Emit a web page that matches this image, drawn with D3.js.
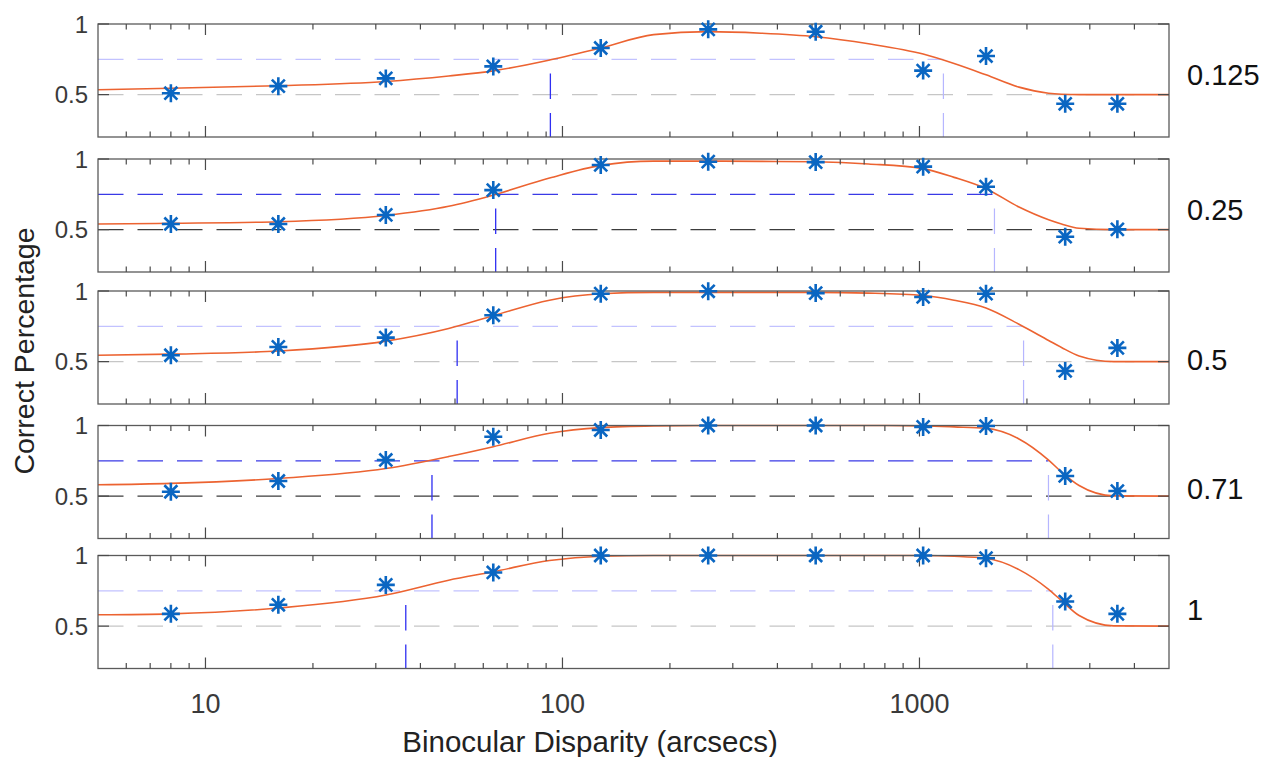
<!DOCTYPE html>
<html>
<head>
<meta charset="utf-8">
<script src="https://cdn.jsdelivr.net/npm/d3@7"></script>
<style>
  body { margin: 0; background: #fff; }
  svg { display: block; font-family: "Liberation Sans", Arial, Helvetica, sans-serif; }
</style>
</head>
<body>
<svg id="chart" width="1269" height="757"></svg>
<script>
// disparities that were tested (arcsecs)
var disparity = [8, 16, 32, 64, 128, 256, 512, 1024, 1536, 2560, 3584]
var conditions = ["0.125", "0.25", "0.5", "0.71", "1"]

// proportion correct, one list per condition
var pc0125 = [0.51, 0.56, 0.615, 0.70, 0.83, 0.962, 0.945, 0.67, 0.773, 0.435, 0.435]
var pc025 = [0.54, 0.54, 0.604, 0.78, 0.958, 0.981, 0.978, 0.946, 0.804, 0.45, 0.502]
var pc05 = [0.545, 0.604, 0.67, 0.828, 0.981, 0.998, 0.985, 0.958, 0.981, 0.434, 0.597]
var pc071 = [0.531, 0.607, 0.756, 0.92, 0.968, 1.0, 1.0, 0.99, 0.996, 0.643, 0.536]
var pc1 = [0.587, 0.651, 0.792, 0.88, 1.0, 1.0, 1.0, 1.0, 0.981, 0.674, 0.587]

// fitted curves at these disparities
var fitX = [5, 8, 16, 32, 48, 64, 92, 128, 180, 256, 360, 512, 720, 1024, 1250, 1536, 1900, 2300, 2500, 2800, 3500, 5000]
var fit0125 = [0.535, 0.545, 0.563, 0.593, 0.632, 0.668, 0.745, 0.83, 0.925, 0.946, 0.935, 0.91, 0.86, 0.787, 0.72, 0.64, 0.553, 0.51, 0.503, 0.5, 0.5, 0.5]
var fit025 = [0.54, 0.545, 0.556, 0.60, 0.665, 0.745, 0.865, 0.955, 0.985, 0.985, 0.983, 0.98, 0.965, 0.932, 0.87, 0.79, 0.66, 0.57, 0.54, 0.51, 0.5, 0.5]
var fit05 = [0.545, 0.553, 0.575, 0.645, 0.735, 0.825, 0.935, 0.98, 0.99, 0.99, 0.99, 0.99, 0.985, 0.968, 0.935, 0.88, 0.765, 0.65, 0.60, 0.54, 0.5, 0.5]
var fit071 = [0.58, 0.59, 0.625, 0.695, 0.78, 0.85, 0.945, 0.985, 0.997, 1.0, 1.0, 1.0, 1.0, 0.997, 0.99, 0.98, 0.905, 0.755, 0.67, 0.575, 0.502, 0.5]
var fit1 = [0.58, 0.587, 0.628, 0.72, 0.825, 0.885, 0.965, 0.995, 1.0, 1.0, 1.0, 1.0, 1.0, 1.0, 0.995, 0.98, 0.9, 0.76, 0.68, 0.575, 0.502, 0.5]

// thresholds where the fit crosses 75%
var lowThresh = [92.5, 65, 50.7, 43.1, 36.4]
var highThresh = [1167, 1622, 1957, 2298, 2363]

var chance = 0.5
var criterion = 0.75
var markTop = 0.65   // top of the threshold markers
var refEnd = 4000    // chance line stops here
var xTicks = [10, 100, 1000]
var yTicks = [0.5, 1]

var correct = [pc0125, pc025, pc05, pc071, pc1]
var fits = [fit0125, fit025, fit05, fit071, fit1]

// layout
var left = 98, right = 1169, panelH = 113
var panelTop = [24, 159, 291, 425.5, 555.5]
var labelY = [85, 220, 370, 499, 620]
var darkRefs = [false, true, false, true, false] // panels 2 and 4 have darker reference lines

var svg = d3.select("#chart")

var x = d3.scaleLog().domain([5, 5000]).range([left, right])
var minorTicks = x.ticks().filter(function(t) {
  return xTicks.indexOf(t) < 0 && t > 5 && t < 5000
})

var dash = "25.5,14"
var markerColor = "#0a66c2"
var fitColor = "#ec6331"

// asterisk marker, plus and cross on top of each other
function asterisk(r) {
  var d = r * 0.72
  return "M0," + (-r) + "L0," + r + "M" + (-r) + ",0L" + r + ",0" +
    "M" + (-d) + "," + (-d) + "L" + d + "," + d + "M" + (-d) + "," + d + "L" + d + "," + (-d)
}

conditions.forEach(function(cond, i) {
  var top = panelTop[i]
  var y = d3.scaleLinear().domain([0.2, 1]).range([top + panelH, top])
  var g = svg.append("g").attr("class", "panel")

  var col50 = darkRefs[i] ? "#3c3c3c" : "#c6c6c6"
  var col75 = darkRefs[i] ? "#3a3ae6" : "#c2c2ff"

  // chance line
  g.append("line")
    .attr("x1", x(5)).attr("x2", x(refEnd))
    .attr("y1", y(chance)).attr("y2", y(chance))
    .attr("stroke", col50).attr("stroke-width", 1.2)
    .attr("stroke-dasharray", dash)

  // 75% line up to the upper threshold
  g.append("line")
    .attr("x1", x(5)).attr("x2", x(highThresh[i]))
    .attr("y1", y(criterion)).attr("y2", y(criterion))
    .attr("stroke", col75).attr("stroke-width", 1.2)
    .attr("stroke-dasharray", dash)

  // threshold markers
  g.append("line")
    .attr("x1", x(lowThresh[i])).attr("x2", x(lowThresh[i]))
    .attr("y1", y(markTop)).attr("y2", y(0.2))
    .attr("stroke", "#2f2ff2").attr("stroke-width", 1.3)
    .attr("stroke-dasharray", dash)
  g.append("line")
    .attr("x1", x(highThresh[i])).attr("x2", x(highThresh[i]))
    .attr("y1", y(markTop)).attr("y2", y(0.2))
    .attr("stroke", "#b6b6ff").attr("stroke-width", 1.2)
    .attr("stroke-dasharray", dash)

  // fitted curve
  var line = d3.line()
    .x(function(d) { return x(d[0]) })
    .y(function(d) { return y(d[1]) })
    .curve(d3.curveMonotoneX)
  g.append("path")
    .datum(fitX.map(function(v, k) { return [v, fits[i][k]] }))
    .attr("d", line)
    .attr("fill", "none")
    .attr("stroke", fitColor)
    .attr("stroke-width", 1.6)

  // box
  g.append("rect")
    .attr("x", left).attr("y", top)
    .attr("width", right - left).attr("height", panelH)
    .attr("fill", "none").attr("stroke", "#5a5a5a").attr("stroke-width", 1.3)

  // x ticks (inside, top and bottom)
  var tickData = xTicks.map(function(t) { return {v: t, len: 11} })
    .concat(minorTicks.map(function(t) { return {v: t, len: 5.5} }))
  g.selectAll(".xb").data(tickData).enter().append("line")
    .attr("x1", function(d) { return x(d.v) }).attr("x2", function(d) { return x(d.v) })
    .attr("y1", top + panelH).attr("y2", function(d) { return top + panelH - d.len })
    .attr("stroke", "#4a4a4a").attr("stroke-width", 1.2)
  g.selectAll(".xt").data(tickData).enter().append("line")
    .attr("x1", function(d) { return x(d.v) }).attr("x2", function(d) { return x(d.v) })
    .attr("y1", top).attr("y2", function(d) { return top + d.len })
    .attr("stroke", "#4a4a4a").attr("stroke-width", 1.2)

  // y ticks both sides
  yTicks.forEach(function(t) {
    g.append("line").attr("x1", left).attr("x2", left + 11)
      .attr("y1", y(t)).attr("y2", y(t)).attr("stroke", "#4a4a4a").attr("stroke-width", 1.2)
    g.append("line").attr("x1", right).attr("x2", right - 11)
      .attr("y1", y(t)).attr("y2", y(t)).attr("stroke", "#4a4a4a").attr("stroke-width", 1.2)
    g.append("text")
      .attr("x", left - 10).attr("y", y(t)).attr("dy", "0.36em")
      .attr("text-anchor", "end")
      .style("font-size", "24px").style("fill", "#3a3a3a")
      .text(t)
  })

  // data points
  g.selectAll(".pt").data(disparity).enter().append("path")
    .attr("transform", function(d, k) { return "translate(" + x(d) + "," + y(correct[i][k]) + ")" })
    .attr("d", asterisk(9))
    .attr("fill", "none")
    .attr("stroke", markerColor)
    .attr("stroke-width", 2.6)

  // condition label on the right
  svg.append("text")
    .attr("x", 1187).attr("y", labelY[i])
    .style("font-size", "29px").style("fill", "#111")
    .text(cond)

  // x tick labels only under the last panel
  if (i == conditions.length - 1) {
    g.selectAll(".xl").data(xTicks).enter().append("text")
      .attr("x", function(d) { return x(d) })
      .attr("y", top + panelH + 44)
      .attr("text-anchor", "middle")
      .style("font-size", "27px").style("fill", "#3a3a3a")
      .text(function(d) { return d })
  }
})

// axis titles
svg.append("text")
  .attr("x", 590).attr("y", 752)
  .attr("text-anchor", "middle")
  .style("font-size", "29.5px").style("fill", "#222")
  .text("Binocular Disparity (arcsecs)")

svg.append("text")
  .attr("transform", "translate(34,351) rotate(-90)")
  .attr("text-anchor", "middle")
  .style("font-size", "28.5px").style("fill", "#222")
  .text("Correct Percentage")
</script>
</body>
</html>
